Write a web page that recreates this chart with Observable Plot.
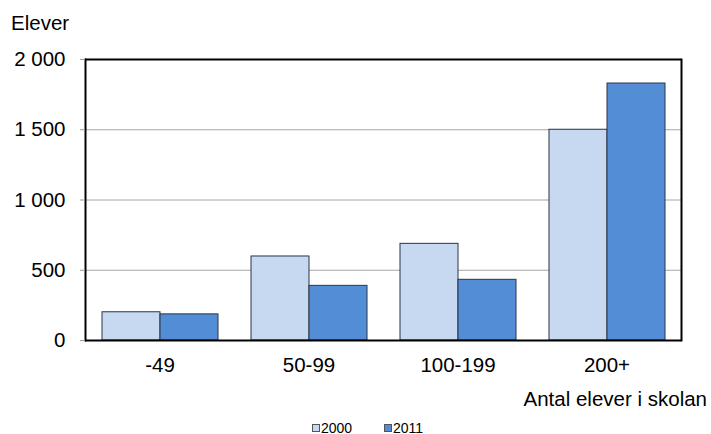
<!DOCTYPE html>
<html>
<head>
<meta charset="utf-8">
<script src="https://cdn.jsdelivr.net/npm/d3@7"></script>
<script src="https://cdn.jsdelivr.net/npm/@observablehq/plot@0.6"></script>
<style>
  html, body { margin: 0; padding: 0; background: #fff; }
  body { font-family: "Liberation Sans", Arial, Helvetica, sans-serif; color: #000; }
  #wrap { position: relative; width: 711px; height: 434px; overflow: hidden; }
  .lbl { position: absolute; line-height: 1; white-space: nowrap; }
  .sw { position: absolute; width: 6px; height: 6px; border: 1px solid #555; }
</style>
</head>
<body>
<div id="wrap">
  <div id="chart"></div>
  <span class="lbl" style="left:11px; top:13px; font-size:20.5px;">Elever</span>
  <span class="lbl" style="right:4px; top:388.5px; font-size:20.5px;">Antal elever i skolan</span>
  <div id="legend"></div>
</div>
<script>
const categories = ["-49", "50-99", "100-199", "200+"];
const years = ["2000", "2011"];
const values2000 = [201, 598, 688, 1500];
const values2011 = [186, 389, 432, 1829];
const yTicks = [0, 500, 1000, 1500, 2000];
const gridTicks = [500, 1000, 1500];
const colors = ["#c6d9f1", "#538dd5"];

const data = categories.flatMap((c, i) => [
  {cat: c, year: years[0], value: values2000[i]},
  {cat: c, year: years[1], value: values2011[i]}
]);

const fmt = d3.formatLocale({decimal: ",", thousands: "\u00a0", grouping: [3], currency: ["", ""]}).format(",");

const chart = Plot.plot({
  width: 711,
  height: 412,
  marginTop: 59,
  marginBottom: 72,
  marginLeft: 84,
  marginRight: 29,
  style: {fontFamily: "'Liberation Sans', Arial, sans-serif", fontSize: "20.5px", color: "#000", background: "#fff"},
  fx: {domain: categories, padding: 0, label: null},
  x: {domain: years, paddingInner: 0, paddingOuter: 0.267, axis: null, label: null},
  y: {domain: [0, 2000], label: null},
  color: {domain: years, range: colors},
  marks: [
    Plot.ruleY(gridTicks, {stroke: "#a6a6a6", strokeWidth: 1}),
    Plot.barY(data, {fx: "cat", x: "year", y: "value", fill: "year", stroke: "#2a3444", strokeWidth: 1}),
    Plot.ruleY([0, 2000], {stroke: "#000", strokeWidth: 2}),
    Plot.frame({anchor: "left", facetAnchor: "left", stroke: "#000", strokeWidth: 2}),
    Plot.frame({anchor: "right", facetAnchor: "right", stroke: "#000", strokeWidth: 2}),
    Plot.axisY({anchor: "left", ticks: yTicks, tickFormat: fmt, tickSize: 5, tickPadding: 15, stroke: "#999", fill: "#000", fontSize: 20.5, label: null}),
    Plot.axisFx({anchor: "bottom", tickSize: 0, tickPadding: 17, fontSize: 20.5, label: null})
  ]
});
document.getElementById("chart").appendChild(chart);

// legend
const legend = document.getElementById("legend");
const legendPos = [312, 384];
years.forEach((y, i) => {
  const sw = document.createElement("div");
  sw.className = "sw";
  sw.style.left = legendPos[i] + "px";
  sw.style.top = "424px";
  sw.style.background = colors[i];
  legend.appendChild(sw);
  const t = document.createElement("span");
  t.className = "lbl";
  t.style.left = (legendPos[i] + 9) + "px";
  t.style.top = "420.5px";
  t.style.fontSize = "14px";
  t.textContent = y;
  legend.appendChild(t);
});
</script>
</body>
</html>
